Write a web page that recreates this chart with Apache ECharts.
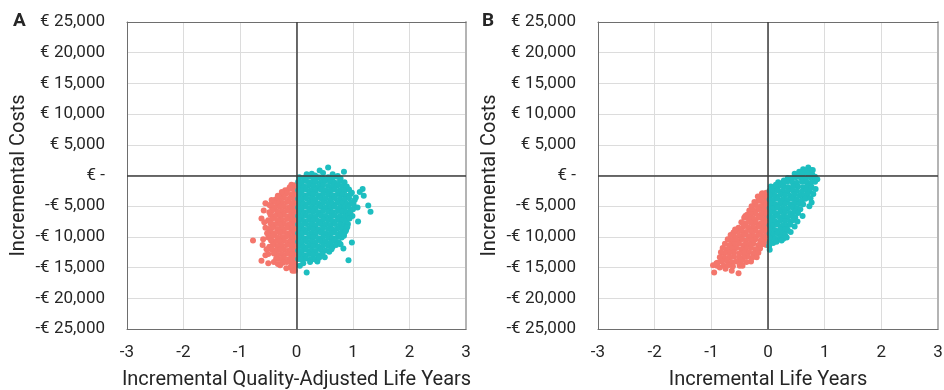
<!DOCTYPE html>
<html>
<head>
<meta charset="utf-8">
<script src="https://cdn.jsdelivr.net/npm/echarts@6/dist/echarts.min.js"></script>
<style>
  html, body { margin: 0; padding: 0; background: #fff; }
  #chart { width: 944px; height: 390px; }
</style>
</head>
<body>
<div id="chart"></div>
<script>
// Probabilistic sensitivity analysis: incremental costs vs incremental effects.
// Simulations stored as [effect x 100, cost / 100] pairs.

const xTicks = [-3, -2, -1, 0, 1, 2, 3];
const yTicks = [-25000, -20000, -15000, -10000, -5000, 0, 5000, 10000, 15000, 20000, 25000];
const panelLetters = ['A', 'B'];
const xTitles = ['Incremental Quality-Adjusted Life Years', 'Incremental Life Years'];
const yTitle = 'Incremental Costs';

// Panel A: simulations with QALY loss (x < 0)
const qalyLoss = [
  [-3,-16],[-9,-15],
  [-5,-23],[-13,-22],[-20,-24],
  [-3,-30],[-9,-31],[-17,-29],[-26,-30],
  [-5,-37],[-13,-38],[-22,-36],[-30,-37],[-37,-39],
  [-3,-44],[-9,-45],[-17,-43],[-26,-44],[-34,-45],[-41,-43],
  [-5,-51],[-13,-52],[-22,-50],[-30,-51],[-39,-52],[-45,-50],
  [-3,-58],[-9,-59],[-17,-57],[-26,-58],[-34,-59],[-43,-57],[-48,-60],
  [-5,-65],[-13,-66],[-22,-64],[-30,-65],[-39,-66],[-46,-64],
  [-3,-72],[-9,-73],[-17,-71],[-26,-72],[-34,-73],[-43,-71],[-50,-73],
  [-5,-79],[-13,-80],[-22,-78],[-30,-79],[-39,-80],[-46,-78],
  [-3,-86],[-9,-87],[-17,-85],[-26,-86],[-34,-87],[-43,-85],[-49,-87],
  [-5,-93],[-13,-94],[-22,-92],[-30,-93],[-39,-94],[-46,-92],
  [-3,-100],[-9,-101],[-17,-99],[-26,-100],[-34,-101],[-43,-99],[-50,-101],
  [-5,-107],[-13,-108],[-22,-106],[-30,-107],[-39,-108],[-45,-106],
  [-3,-114],[-9,-115],[-17,-113],[-26,-114],[-34,-115],[-42,-113],[-48,-116],
  [-5,-121],[-13,-122],[-22,-120],[-30,-121],[-38,-122],[-44,-120],
  [-3,-128],[-9,-129],[-17,-127],[-26,-128],[-34,-129],[-40,-127],
  [-5,-135],[-13,-136],[-22,-134],[-29,-136],[-36,-135],
  [-3,-142],[-9,-143],[-17,-141],[-24,-142],
  [-4,-149],[-11,-150],
  [-77,-106],[-62,-70],[-58,-57],[-59,-104],[-62,-139],[-50,-143],[-29,-146],
  [-7,-155],[-26,-27],[-8,-17],[-55,-45],[-53,-120],[-40,-141],[-18,-151],
  [-55,-85],[-52,-94],[-57,-76],[-48,-48],[-44,-40],[-3,-155],[-33,-144],
  [-55,-130],[-60,-113],[-50,-128],[-12,-19],[-33,-33]
];

// Panel A: simulations with QALY gain (x >= 0)
const qalyGain = [
  [18,2],[33,0],[56,13],[84,6],[47,4],[27,3],[64,2],[73,-1],[41,8],
  [5,-3],[13,-4],[22,-2],[30,-4],[39,-3],[47,-5],[56,-3],[64,-4],[72,-2],[78,-5],
  [3,-10],[9,-11],[17,-9],[26,-11],[34,-10],[43,-11],[51,-9],[60,-10],[68,-12],[77,-9],[85,-11],
  [5,-17],[13,-18],[22,-16],[30,-17],[39,-18],[47,-16],[56,-17],[64,-18],[73,-16],[81,-17],[89,-18],
  [3,-24],[9,-25],[17,-23],[26,-24],[34,-25],[43,-23],[51,-24],[60,-25],[68,-23],[77,-24],[85,-25],[93,-23],[117,-22],
  [5,-31],[13,-32],[22,-30],[30,-31],[39,-32],[47,-30],[56,-31],[64,-32],[73,-30],[81,-31],[89,-33],[96,-30],[119,-33],
  [3,-38],[9,-39],[17,-37],[26,-38],[34,-39],[43,-37],[51,-38],[60,-39],[68,-37],[77,-38],[85,-39],[93,-37],[103,-40],
  [5,-45],[13,-46],[22,-44],[30,-45],[39,-46],[47,-44],[56,-45],[64,-46],[73,-44],[81,-45],[89,-46],[97,-44],[127,-49],
  [3,-52],[9,-53],[17,-51],[26,-52],[34,-53],[43,-51],[51,-52],[60,-53],[68,-51],[77,-52],[85,-53],[92,-51],[100,-55],
  [5,-59],[13,-60],[22,-58],[30,-59],[39,-60],[47,-58],[56,-59],[64,-60],[73,-58],[81,-59],[89,-60],[95,-58],[131,-59],
  [3,-66],[9,-67],[17,-65],[26,-66],[34,-67],[43,-65],[51,-66],[60,-67],[68,-65],[77,-66],[85,-67],[92,-65],
  [5,-73],[13,-74],[22,-72],[30,-73],[39,-74],[47,-72],[56,-73],[64,-74],[73,-72],[81,-73],[88,-74],[109,-75],
  [3,-80],[9,-81],[17,-79],[26,-80],[34,-81],[43,-79],[51,-80],[60,-81],[68,-79],[77,-80],[85,-81],[91,-79],
  [5,-87],[13,-88],[22,-86],[30,-87],[39,-88],[47,-86],[56,-87],[64,-88],[73,-86],[81,-87],[88,-88],
  [3,-94],[9,-95],[17,-93],[26,-94],[34,-95],[43,-93],[51,-94],[60,-95],[68,-93],[77,-94],[84,-95],
  [5,-101],[13,-102],[22,-100],[30,-101],[39,-102],[47,-100],[56,-101],[64,-102],[73,-100],[80,-101],
  [3,-108],[9,-109],[17,-107],[26,-108],[34,-109],[43,-107],[51,-108],[60,-109],[68,-107],[75,-109],[98,-109],
  [5,-115],[13,-116],[22,-114],[30,-115],[39,-116],[47,-114],[56,-115],[64,-116],[70,-113],[83,-119],
  [3,-122],[9,-123],[17,-121],[26,-122],[34,-123],[43,-121],[51,-122],[58,-124],
  [5,-129],[13,-130],[22,-128],[30,-129],[39,-130],[46,-128],
  [3,-136],[9,-137],[17,-135],[26,-136],[33,-137],[92,-138],
  [6,-147],[18,-158],[12,-143],[24,-141],[37,-140],
  [98,-28],[101,-47],[95,-62],[94,-70],[90,-84],[87,-91],[84,-98],[78,-112],
  [62,-120],[50,-133],[40,-134],[105,-36],[112,-27],[108,-52],[99,-66]
];

// Panel B: simulations with life-year loss (x < 0)
const lyLoss = [
  [-3,-28],[-10,-29],
  [-5,-35],[-12,-36],[-18,-34],
  [-3,-42],[-9,-43],[-17,-41],[-24,-43],
  [-5,-49],[-13,-50],[-22,-48],[-29,-50],
  [-3,-56],[-9,-57],[-17,-55],[-26,-56],[-33,-57],
  [-5,-63],[-13,-64],[-22,-62],[-30,-63],[-37,-64],
  [-3,-70],[-9,-71],[-17,-69],[-26,-70],[-34,-71],[-42,-69],
  [-5,-77],[-13,-78],[-22,-76],[-30,-77],[-39,-78],[-47,-76],
  [-3,-84],[-9,-85],[-17,-83],[-26,-84],[-34,-85],[-43,-83],[-52,-85],
  [-5,-91],[-13,-92],[-22,-90],[-30,-91],[-39,-92],[-47,-90],[-56,-91],[-61,-93],
  [-3,-98],[-9,-99],[-17,-97],[-26,-98],[-34,-99],[-43,-97],[-51,-98],[-60,-99],[-66,-97],
  [-6,-105],[-13,-106],[-22,-104],[-30,-105],[-39,-106],[-47,-104],[-56,-105],[-64,-106],[-71,-104],
  [-10,-112],[-17,-113],[-26,-111],[-34,-112],[-43,-113],[-51,-111],[-60,-112],[-68,-113],[-76,-111],
  [-14,-119],[-22,-120],[-30,-118],[-39,-119],[-47,-120],[-56,-118],[-64,-119],[-73,-120],[-80,-118],
  [-17,-126],[-26,-127],[-34,-125],[-43,-126],[-51,-127],[-60,-125],[-68,-126],[-77,-127],[-83,-125],
  [-20,-133],[-28,-134],[-36,-132],[-43,-133],[-51,-134],[-60,-132],[-68,-133],[-77,-134],[-85,-133],
  [-30,-140],[-38,-141],[-47,-139],[-56,-140],[-64,-141],[-73,-139],[-82,-140],[-89,-142],
  [-50,-147],[-62,-148],[-78,-147],[-90,-147],
  [-97,-146],[-95,-158],[-52,-159],[-64,-155],[-85,-150],[-75,-152],[-45,-147],
  [-3,-113],[-2,-108],[-91,-143],[-70,-146],[-11,-30],[-40,-66],[-58,-88]
];

// Panel B: simulations with life-year gain (x >= 0)
const lyGain = [
  [71,13],[62,10],[66,8],[75,9],[55,6],
  [47,3],[55,2],[63,4],[71,3],[78,2],
  [35,-4],[41,-5],[49,-3],[58,-4],[66,-5],[74,-3],[81,-4],
  [18,-11],[26,-12],[34,-10],[43,-11],[51,-12],[60,-10],[68,-11],[76,-12],[83,-10],
  [5,-18],[11,-19],[19,-17],[28,-18],[36,-19],[45,-17],[53,-18],[62,-19],[70,-17],[77,-19],
  [3,-25],[9,-26],[17,-24],[26,-25],[34,-26],[43,-24],[51,-25],[60,-26],[68,-24],[74,-26],
  [5,-32],[13,-33],[22,-31],[30,-32],[39,-33],[47,-31],[56,-32],[64,-33],[70,-31],
  [3,-39],[9,-40],[17,-38],[26,-39],[34,-40],[43,-38],[51,-39],[60,-40],[66,-38],
  [5,-46],[13,-47],[22,-45],[30,-46],[39,-47],[47,-45],[56,-46],[62,-47],
  [3,-53],[9,-54],[17,-52],[26,-53],[34,-54],[43,-52],[51,-53],[57,-55],
  [5,-60],[13,-61],[22,-59],[30,-60],[39,-61],[47,-59],[53,-61],
  [3,-67],[9,-68],[17,-66],[26,-67],[34,-68],[43,-66],[48,-68],
  [5,-74],[13,-75],[22,-73],[30,-74],[39,-75],[44,-73],
  [3,-81],[9,-82],[17,-80],[26,-81],[34,-82],[39,-80],
  [5,-88],[13,-89],[22,-87],[30,-88],[35,-89],
  [3,-95],[9,-96],[17,-94],[25,-95],[30,-96],
  [5,-102],[13,-103],[21,-101],[27,-103],
  [3,-109],[9,-110],[15,-108],
  [2,-115],
  [83,-2],[84,-22],[77,-44],[80,-30],[73,-50],[61,-66],[52,-75],[47,-83],
  [40,-92],[33,-101],[24,-106],[3,-121],[87,-6],[60,2],[79,9],[28,-8],
  [14,-15],[75,-37]
];

const salmon = '#F4766C';
const teal = '#1DBEC0';
const toValue = p => [p[0] / 100, p[1] * 100];

function costLabel(v) {
  if (v === 0) return '€ -';
  const s = Math.abs(v).toLocaleString('en-US');
  return v > 0 ? '€ ' + s : '-€ ' + s;
}

const grids = [
  { left: 127, top: 22, width: 339, height: 307, outerBoundsMode: 'none', containLabel: false },
  { left: 598, top: 22, width: 340, height: 307, outerBoundsMode: 'none', containLabel: false }
];

const xAxes = [];
const yAxes = [];
grids.forEach((g, i) => {
  // bottom axis with ticks and title
  xAxes.push({
    gridIndex: i, type: 'value', min: xTicks[0], max: xTicks[xTicks.length - 1], interval: 1,
    name: xTitles[i], nameLocation: 'middle', nameGap: 41,
    nameTextStyle: { fontFamily: 'Roboto', fontSize: 20, color: '#262626' },
    axisLine: { onZero: false, lineStyle: { color: '#6e6e6e', width: 1 } },
    axisTick: { show: false },
    axisLabel: { fontFamily: 'Roboto', fontSize: 17, color: '#262626', margin: 15 },
    splitLine: { show: true, lineStyle: { color: '#dcdcdc', width: 1 } }
  });
  // top border
  xAxes.push({
    gridIndex: i, type: 'value', position: 'top', min: -3, max: 3,
    axisLine: { show: true, onZero: false, lineStyle: { color: '#6e6e6e', width: 1 } },
    axisTick: { show: false }, axisLabel: { show: false }, splitLine: { show: false }
  });
  yAxes.push({
    gridIndex: i, type: 'value', min: yTicks[0], max: yTicks[yTicks.length - 1], interval: 5000,
    name: yTitle, nameLocation: 'middle', nameGap: 98, nameRotate: 90,
    nameTextStyle: { fontFamily: 'Roboto', fontSize: 20, color: '#262626' },
    axisLine: { show: true, onZero: false, lineStyle: { color: '#6e6e6e', width: 1 } },
    axisTick: { show: false },
    axisLabel: { fontFamily: 'Roboto', fontSize: 17, color: '#262626', margin: 22, formatter: costLabel },
    splitLine: { show: true, lineStyle: { color: '#dcdcdc', width: 1 } }
  });
  // right border
  yAxes.push({
    gridIndex: i, type: 'value', position: 'right', min: -25000, max: 25000,
    axisLine: { show: true, onZero: false, lineStyle: { color: '#b4b4b4', width: 2 } },
    axisTick: { show: false }, axisLabel: { show: false }, splitLine: { show: false }
  });
});

function quadrantLines(i) {
  return {
    type: 'line', xAxisIndex: i * 2, yAxisIndex: i * 2, data: [], z: 1, silent: true,
    markLine: {
      silent: true, symbol: 'none', label: { show: false }, animation: false,
      lineStyle: { color: '#3c3c3c', width: 1.5, type: 'solid' },
      data: [{ xAxis: 0 }, { yAxis: 0 }]
    }
  };
}

function cloud(name, i, pts, color) {
  return {
    name, type: 'scatter', xAxisIndex: i * 2, yAxisIndex: i * 2, z: 3,
    symbolSize: 6, itemStyle: { color, opacity: 1 },
    data: pts.map(toValue)
  };
}

const chart = echarts.init(document.getElementById('chart'), null, { renderer: 'canvas' });
chart.setOption({
  animation: false,
  backgroundColor: '#ffffff',
  grid: grids,
  xAxis: xAxes,
  yAxis: yAxes,
  graphic: panelLetters.map((t, i) => ({
    type: 'text', left: i === 0 ? 13 : 482, top: 12,
    style: { text: t, fontFamily: 'Roboto', fontWeight: 'bold', fontSize: 19, fill: '#262626' }
  })),
  series: [
    quadrantLines(0),
    quadrantLines(1),
    cloud('QALY loss', 0, qalyLoss, salmon),
    cloud('QALY gain', 0, qalyGain, teal),
    cloud('Life-year loss', 1, lyLoss, salmon),
    cloud('Life-year gain', 1, lyGain, teal)
  ]
});
</script>
</body>
</html>
